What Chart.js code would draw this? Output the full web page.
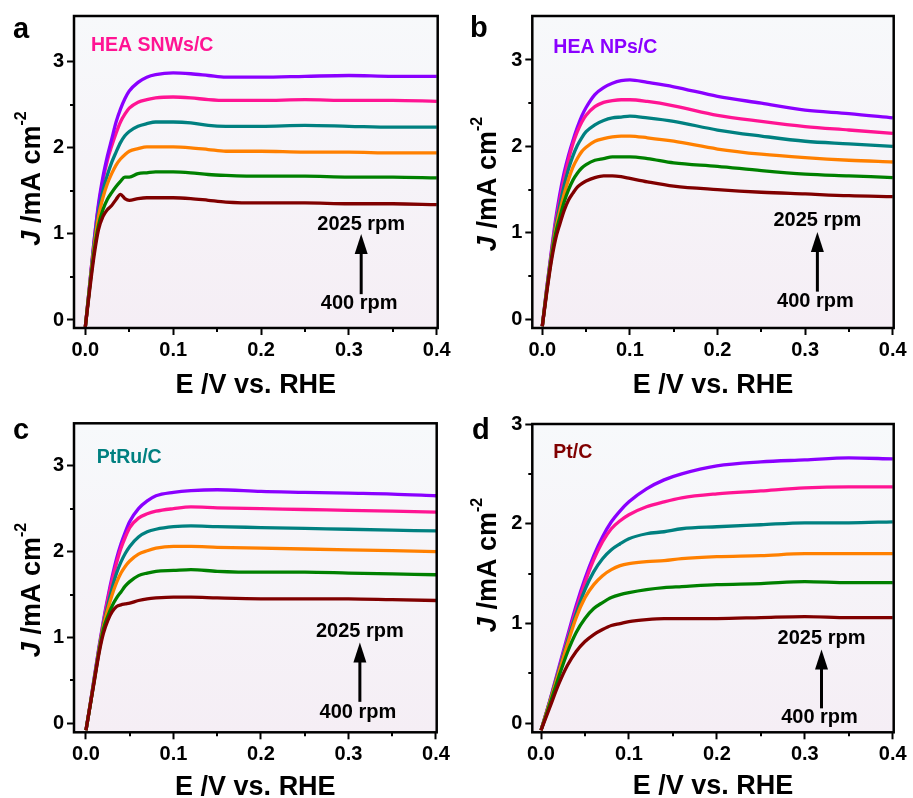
<!DOCTYPE html>
<html>
<head>
<meta charset="utf-8">
<script src="https://cdn.jsdelivr.net/npm/chart.js@4.4.1/dist/chart.umd.min.js"></script>
<style>
  html, body { margin: 0; padding: 0; background: #fff; }
  body { width: 913px; height: 798px; position: relative; overflow: hidden; }
  canvas { position: absolute; }
</style>
</head>
<body>
<canvas id="chartA" width="456" height="400" style="left:0;top:0"></canvas>
<canvas id="chartB" width="457" height="400" style="left:456px;top:0"></canvas>
<canvas id="chartC" width="456" height="398" style="left:0;top:400px"></canvas>
<canvas id="chartD" width="457" height="398" style="left:456px;top:400px"></canvas>
<script>
// ── Data (E in V vs. RHE, J in mA cm-2) ────────────────
const speeds = ['400', '625', '900', '1225', '1600', '2025'];
const xTicks = [0, 0.1, 0.2, 0.3, 0.4];
const xTickLabels = ['0.0', '0.1', '0.2', '0.3', '0.4'];
const xMinor = [0.05, 0.15, 0.25, 0.35];
const yTicks = [0, 1, 2, 3];
const yTickLabels = ['0', '1', '2', '3'];
const yMinor = [0.5, 1.5, 2.5];

// a: HEA SNWs/C
const eSnw = [0, 0.005, 0.01, 0.015, 0.02, 0.025, 0.03, 0.035, 0.04, 0.045, 0.05, 0.06, 0.07, 0.08, 0.1, 0.12, 0.14, 0.16, 0.2, 0.25, 0.3, 0.35, 0.4];
const snw400  = [-0.08, 0.35, 0.75, 1.05, 1.20, 1.28, 1.33, 1.40, 1.46, 1.41, 1.39, 1.41, 1.42, 1.42, 1.42, 1.41, 1.39, 1.37, 1.36, 1.36, 1.35, 1.35, 1.34];
const snw625  = [-0.08, 0.38, 0.80, 1.10, 1.28, 1.40, 1.48, 1.55, 1.61, 1.66, 1.66, 1.70, 1.71, 1.72, 1.72, 1.71, 1.69, 1.68, 1.67, 1.67, 1.66, 1.66, 1.65];
const snw900  = [-0.08, 0.40, 0.85, 1.20, 1.42, 1.58, 1.70, 1.80, 1.87, 1.92, 1.96, 1.99, 2.01, 2.01, 2.01, 2.00, 1.98, 1.96, 1.96, 1.95, 1.95, 1.94, 1.94];
const snw1225 = [-0.08, 0.40, 0.88, 1.25, 1.50, 1.68, 1.83, 1.95, 2.06, 2.14, 2.19, 2.25, 2.28, 2.30, 2.30, 2.29, 2.26, 2.25, 2.25, 2.26, 2.25, 2.24, 2.24];
const snw1600 = [-0.08, 0.42, 0.92, 1.32, 1.62, 1.85, 2.02, 2.17, 2.30, 2.39, 2.46, 2.53, 2.56, 2.58, 2.59, 2.58, 2.56, 2.55, 2.55, 2.56, 2.55, 2.55, 2.54];
const snw2025 = [-0.08, 0.42, 0.92, 1.35, 1.66, 1.90, 2.10, 2.30, 2.45, 2.57, 2.66, 2.76, 2.82, 2.85, 2.87, 2.86, 2.84, 2.82, 2.82, 2.83, 2.84, 2.83, 2.83];

// b: HEA NPs/C
const eNp = [0, 0.005, 0.01, 0.015, 0.02, 0.025, 0.03, 0.035, 0.04, 0.045, 0.05, 0.06, 0.07, 0.08, 0.09, 0.1, 0.12, 0.15, 0.2, 0.25, 0.3, 0.35, 0.4];
const np400  = [-0.08, 0.30, 0.65, 0.92, 1.10, 1.26, 1.38, 1.46, 1.53, 1.57, 1.60, 1.64, 1.66, 1.66, 1.65, 1.63, 1.59, 1.54, 1.50, 1.47, 1.45, 1.43, 1.42];
const np625  = [-0.08, 0.32, 0.68, 0.98, 1.18, 1.36, 1.50, 1.61, 1.69, 1.75, 1.79, 1.84, 1.86, 1.88, 1.88, 1.88, 1.86, 1.81, 1.77, 1.72, 1.68, 1.66, 1.64];
const np900  = [-0.08, 0.33, 0.70, 1.02, 1.25, 1.45, 1.62, 1.76, 1.86, 1.94, 1.99, 2.06, 2.09, 2.11, 2.12, 2.12, 2.10, 2.06, 1.97, 1.91, 1.87, 1.84, 1.82];
const np1225 = [-0.08, 0.34, 0.72, 1.06, 1.32, 1.55, 1.74, 1.89, 2.01, 2.10, 2.17, 2.25, 2.30, 2.33, 2.34, 2.35, 2.33, 2.29, 2.19, 2.12, 2.06, 2.03, 2.00];
const np1600 = [-0.08, 0.35, 0.74, 1.10, 1.38, 1.63, 1.85, 2.03, 2.17, 2.28, 2.36, 2.46, 2.51, 2.53, 2.54, 2.54, 2.52, 2.47, 2.36, 2.29, 2.23, 2.19, 2.15];
const np2025 = [-0.08, 0.36, 0.76, 1.14, 1.45, 1.70, 1.90, 2.07, 2.22, 2.35, 2.45, 2.60, 2.68, 2.73, 2.76, 2.77, 2.74, 2.69, 2.58, 2.50, 2.42, 2.38, 2.33];

// c: PtRu/C
const ePtRu = [0, 0.005, 0.01, 0.015, 0.02, 0.025, 0.03, 0.035, 0.04, 0.045, 0.05, 0.06, 0.07, 0.08, 0.1, 0.12, 0.15, 0.2, 0.25, 0.3, 0.35, 0.4];
const ptru400  = [-0.08, 0.22, 0.52, 0.82, 1.05, 1.20, 1.30, 1.36, 1.38, 1.39, 1.40, 1.43, 1.45, 1.46, 1.47, 1.47, 1.46, 1.45, 1.45, 1.45, 1.44, 1.43];
const ptru625  = [-0.08, 0.22, 0.53, 0.84, 1.10, 1.25, 1.37, 1.46, 1.53, 1.60, 1.65, 1.72, 1.75, 1.77, 1.78, 1.79, 1.77, 1.76, 1.76, 1.75, 1.74, 1.73];
const ptru900  = [-0.08, 0.23, 0.54, 0.86, 1.13, 1.33, 1.50, 1.64, 1.75, 1.83, 1.89, 1.97, 2.01, 2.04, 2.06, 2.06, 2.05, 2.04, 2.03, 2.02, 2.01, 2.00];
const ptru1225 = [-0.08, 0.23, 0.55, 0.87, 1.15, 1.38, 1.58, 1.75, 1.88, 1.98, 2.06, 2.17, 2.23, 2.26, 2.29, 2.30, 2.29, 2.28, 2.27, 2.26, 2.25, 2.24];
const ptru1600 = [-0.08, 0.23, 0.56, 0.88, 1.18, 1.44, 1.67, 1.87, 2.04, 2.17, 2.28, 2.39, 2.44, 2.47, 2.50, 2.52, 2.51, 2.50, 2.49, 2.48, 2.47, 2.46];
const ptru2025 = [-0.08, 0.24, 0.57, 0.90, 1.20, 1.47, 1.71, 1.92, 2.09, 2.23, 2.35, 2.50, 2.59, 2.65, 2.69, 2.71, 2.72, 2.70, 2.69, 2.68, 2.67, 2.65];

// d: Pt/C
const ePt = [0, 0.01, 0.02, 0.03, 0.04, 0.05, 0.06, 0.07, 0.08, 0.09, 0.1, 0.12, 0.14, 0.16, 0.2, 0.25, 0.3, 0.35, 0.4];
const pt400  = [-0.07, 0.16, 0.39, 0.58, 0.72, 0.82, 0.89, 0.94, 0.98, 1.00, 1.02, 1.04, 1.05, 1.05, 1.05, 1.06, 1.07, 1.06, 1.06];
const pt625  = [-0.07, 0.19, 0.46, 0.71, 0.91, 1.05, 1.15, 1.21, 1.26, 1.29, 1.31, 1.34, 1.36, 1.37, 1.39, 1.40, 1.42, 1.41, 1.41];
const pt900  = [-0.07, 0.21, 0.50, 0.79, 1.06, 1.26, 1.39, 1.48, 1.54, 1.58, 1.60, 1.62, 1.63, 1.65, 1.67, 1.68, 1.70, 1.70, 1.70];
const pt1225 = [-0.07, 0.22, 0.52, 0.82, 1.10, 1.34, 1.52, 1.65, 1.74, 1.80, 1.85, 1.90, 1.92, 1.95, 1.97, 1.99, 2.01, 2.01, 2.02];
const pt1600 = [-0.07, 0.22, 0.53, 0.84, 1.14, 1.41, 1.64, 1.82, 1.95, 2.03, 2.09, 2.17, 2.22, 2.26, 2.30, 2.33, 2.36, 2.37, 2.37];
const pt2025 = [-0.07, 0.23, 0.55, 0.87, 1.18, 1.45, 1.68, 1.87, 2.02, 2.13, 2.22, 2.35, 2.44, 2.50, 2.58, 2.62, 2.64, 2.66, 2.65];

// ── Style ──────────────────────────────────────────────
const COLORS = ['#800000', '#008000', '#ff8000', '#008080', '#ff1493', '#8a00ff'];
const FONT = '"Liberation Sans", Arial, sans-serif';

// ── Panels (layout in canvas px, annotations in data units) ──
const panels = [
    {
        id: 'chartA', letter: 'a', name: 'HEA SNWs/C', nameColor: '#ff1493',
        e: eSnw, series: [snw400, snw625, snw900, snw1225, snw1600, snw2025],
        drawOrder: [0, 1, 2, 3, 5, 4],   // pink drawn on top here
        pad: { top: 16, right: 18.3 }, yWidth: 74, xHeight: 72,
        x: [-0.0129, 0.4011], y: [-0.093, 3.531],
        letterPos: [13, 38], namePos: [91, 50.7], xTitleY: 393, yTitle: [39.5, 178.5],
        arrow: { x: 0.314, tip: 1.0, base: 0.30, top: 1.045, bottom: 0.128 }
    },
    {
        id: 'chartB', letter: 'b', name: 'HEA NPs/C', nameColor: '#8a00ff',
        e: eNp, series: [np400, np625, np900, np1225, np1600, np2025],
        drawOrder: [0, 1, 2, 3, 4, 5],
        pad: { top: 16, right: 19.3 }, yWidth: 76.3, xHeight: 72,
        x: [-0.0114, 0.4011], y: [-0.1007, 3.509],
        letterPos: [14, 37], namePos: [97.3, 53.3], xTitleY: 393, yTitle: [39.7, 184],
        arrow: { x: 0.314, tip: 1.01, base: 0.32, top: 1.08, bottom: 0.146 }
    },
    {
        id: 'chartC', letter: 'c', name: 'PtRu/C', nameColor: '#008080',
        e: ePtRu, series: [ptru400, ptru625, ptru900, ptru1225, ptru1600, ptru2025],
        drawOrder: [0, 1, 2, 3, 4, 5],
        pad: { top: 23.3, right: 19.3 }, yWidth: 74, xHeight: 65.7,
        x: [-0.0137, 0.4008], y: [-0.1048, 3.494],
        letterPos: [13, 39], namePos: [96.7, 62.7], xTitleY: 395, yTitle: [39.5, 190],
        arrow: { x: 0.313, tip: 0.94, base: 0.25, top: 1.0, bottom: 0.058 }
    },
    {
        id: 'chartD', letter: 'd', name: 'Pt/C', nameColor: '#800000',
        e: ePt, series: [pt400, pt625, pt900, pt1225, pt1600, pt2025],
        drawOrder: [0, 1, 2, 3, 4, 5],
        pad: { top: 24, right: 19.3 }, yWidth: 76.3, xHeight: 65.7,
        x: [-0.0099, 0.4011], y: [-0.09, 3.0],
        letterPos: [16, 39], namePos: [97.3, 58.3], xTitleY: 394, yTitle: [39.7, 165],
        arrow: { x: 0.319, tip: 0.74, base: 0.15, top: 0.80, bottom: 0.006 }
    }
];

// ── Decoration plugin: background, frame, minor ticks, texts, arrow ──
const decor = {
    id: 'decor',
    beforeDraw(chart) {
        const { ctx, chartArea: a } = chart;
        const g = ctx.createLinearGradient(0, a.top, 0, a.bottom);
        g.addColorStop(0, '#f7f9fb');
        g.addColorStop(1, '#f5eef5');
        ctx.save();
        ctx.fillStyle = g;
        ctx.fillRect(a.left, a.top, a.right - a.left, a.bottom - a.top);
        ctx.restore();
    },
    afterDraw(chart) {
        const p = chart.options.plugins.decor.panel;
        const { ctx, chartArea: a } = chart;
        const xs = chart.scales.x, ys = chart.scales.y;
        ctx.save();
        ctx.strokeStyle = '#000';
        ctx.fillStyle = '#000';

        // minor ticks
        ctx.lineWidth = 2;
        ctx.beginPath();
        xMinor.forEach(v => {
            const px = Math.round(xs.getPixelForValue(v));
            ctx.moveTo(px, a.bottom); ctx.lineTo(px, a.bottom + 4);
        });
        yMinor.forEach(v => {
            const py = Math.round(ys.getPixelForValue(v));
            ctx.moveTo(a.left, py); ctx.lineTo(a.left - 4, py);
        });
        ctx.stroke();

        // frame
        ctx.lineWidth = 2.5;
        ctx.strokeRect(a.left, a.top, a.right - a.left, a.bottom - a.top);

        // panel letter + sample name
        ctx.textBaseline = 'alphabetic';
        ctx.textAlign = 'left';
        ctx.font = `bold 29px ${FONT}`;
        ctx.fillText(p.letter, p.letterPos[0], p.letterPos[1]);
        ctx.font = `bold 19.5px ${FONT}`;
        ctx.fillStyle = p.nameColor;
        ctx.fillText(p.name, p.namePos[0], p.namePos[1]);
        ctx.fillStyle = '#000';

        // x title
        ctx.textAlign = 'center';
        ctx.font = `bold 27px ${FONT}`;
        ctx.fillText('E /V vs. RHE', (a.left + a.right) / 2, p.xTitleY);

        // y title: italic J, superscript -2
        ctx.save();
        ctx.translate(p.yTitle[0], p.yTitle[1]);
        ctx.rotate(-Math.PI / 2);
        ctx.textAlign = 'left';
        const f1 = `italic bold 27px ${FONT}`, f2 = `bold 27px ${FONT}`, f3 = `bold 16px ${FONT}`;
        ctx.font = f1; const w1 = ctx.measureText('J').width;
        ctx.font = f2; const w2 = ctx.measureText(' /mA cm').width;
        ctx.font = f3; const w3 = ctx.measureText('-2').width;
        let sx = -(w1 + w2 + w3) / 2;
        ctx.font = f1; ctx.fillText('J', sx, 0); sx += w1;
        ctx.font = f2; ctx.fillText(' /mA cm', sx, 0); sx += w2;
        ctx.font = f3; ctx.fillText('-2', sx, -14);
        ctx.restore();

        // rotation-speed arrow
        const ar = p.arrow;
        const ax = xs.getPixelForValue(ar.x);
        const tip = ys.getPixelForValue(ar.tip);
        const base = ys.getPixelForValue(ar.base);
        ctx.lineWidth = 3;
        ctx.beginPath();
        ctx.moveTo(ax, base); ctx.lineTo(ax, tip + 12);
        ctx.stroke();
        ctx.beginPath();
        ctx.moveTo(ax, tip);
        ctx.lineTo(ax - 6.5, tip + 20);
        ctx.lineTo(ax + 6.5, tip + 20);
        ctx.closePath();
        ctx.fill();
        ctx.textAlign = 'center';
        ctx.font = `bold 20px ${FONT}`;
        ctx.fillText(speeds[speeds.length - 1] + ' rpm', ax, ys.getPixelForValue(ar.top));
        ctx.fillText(speeds[0] + ' rpm', ax - 2, ys.getPixelForValue(ar.bottom));
        ctx.restore();
    }
};

function axis(range, ticks, labels, fit) {
    return {
        type: 'linear',
        min: range[0],
        max: range[1],
        afterBuildTicks: s => { s.ticks = ticks.map(v => ({ value: v })); },
        afterFit: fit,
        border: { display: false },
        grid: {
            drawOnChartArea: false,
            drawTicks: true,
            tickLength: 7,
            tickWidth: 2,
            tickColor: '#000'
        },
        ticks: {
            autoSkip: false,
            maxRotation: 0,
            padding: 3,
            color: '#000',
            font: { family: FONT, size: 20, weight: 'bold' },
            callback: (v, i) => labels[i]
        }
    };
}

panels.forEach(p => {
    const datasets = p.drawOrder.map(k => ({
        label: speeds[k] + ' rpm',
        data: p.e.map((x, i) => ({ x, y: p.series[k][i] })),
        borderColor: COLORS[k],
        borderWidth: 3.3,
        pointRadius: 0,
        cubicInterpolationMode: 'monotone',
        fill: false
    }));

    new Chart(document.getElementById(p.id), {
        type: 'line',
        data: { datasets },
        plugins: [decor],
        options: {
            responsive: false,
            animation: false,
            devicePixelRatio: 1,
            layout: { padding: { top: p.pad.top, right: p.pad.right, left: 0, bottom: 0 } },
            plugins: {
                legend: { display: false },
                tooltip: { enabled: false },
                decor: { panel: p }
            },
            scales: {
                x: axis(p.x, xTicks, xTickLabels, s => { s.height = p.xHeight; }),
                y: axis(p.y, yTicks, yTickLabels, s => { s.width = p.yWidth; })
            }
        }
    });
});
</script>
</body>
</html>
